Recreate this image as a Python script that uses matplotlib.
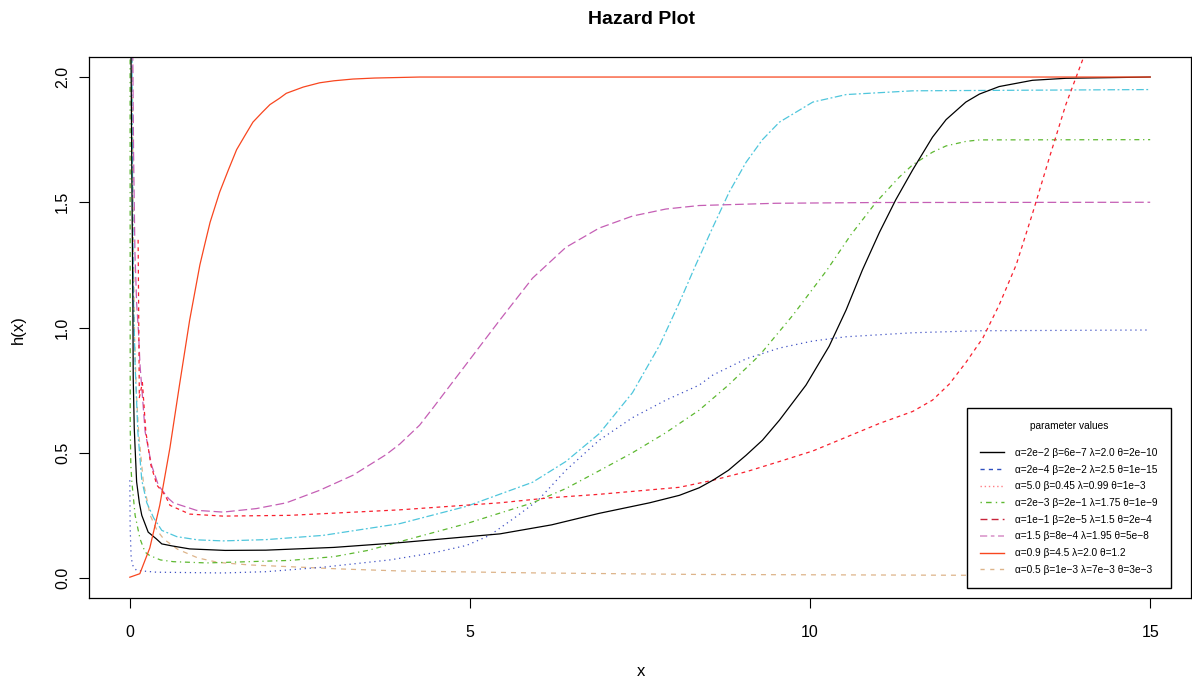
import matplotlib
matplotlib.use("Agg")
import matplotlib.pyplot as plt
from matplotlib.lines import Line2D

plt.rcParams['font.family'] = ['Liberation Sans', 'DejaVu Sans']

# curves (x, h(x))
black_x = [0.015, 0.03, 0.045, 0.05, 0.065, 0.078, 0.1, 0.14, 0.176, 0.27, 0.39, 0.47, 0.62, 0.88, 1.4, 2.0, 3.0,
           3.97, 5.44, 6.2, 6.9, 7.64, 8.08, 8.37, 8.57, 8.8, 9.06, 9.3, 9.55, 9.94, 10.28, 10.53, 10.77, 11.02,
           11.26, 11.51, 11.8, 12.0, 12.29, 12.49, 12.78, 13.27, 13.76, 15.0]
black_y = [2.2, 1.6, 1.1, 0.8, 0.6, 0.517, 0.384, 0.3, 0.25, 0.183, 0.156, 0.136, 0.128, 0.116, 0.11, 0.111, 0.122,
           0.141, 0.176, 0.212, 0.258, 0.30, 0.33, 0.36, 0.39, 0.43, 0.49, 0.55, 0.63, 0.77, 0.925, 1.07, 1.23,
           1.38, 1.51, 1.63, 1.76, 1.83, 1.9, 1.932, 1.962, 1.987, 1.995, 2.0]

red_x = [0.122, 0.14, 0.185, 0.235, 0.31, 0.40, 0.52, 0.59, 0.88, 1.37, 2.35, 3.97, 5.44, 6.17, 6.9, 8.08,
         8.57, 9.06, 9.55, 10.04, 10.53, 11.02, 11.51, 11.8, 12.05, 12.29, 12.54, 12.78, 13.03, 13.27,
         13.52, 13.76, 14.05, 14.3, 14.6, 15.0]
red_y = [1.35, 0.72, 0.78, 0.585, 0.45, 0.37, 0.33, 0.29, 0.255, 0.247, 0.25, 0.272, 0.30, 0.32, 0.334, 0.362,
         0.39, 0.424, 0.465, 0.507, 0.562, 0.617, 0.665, 0.71, 0.775, 0.86, 0.958, 1.09, 1.25, 1.455,
         1.68, 1.89, 2.1, 2.26, 2.38, 2.47]

blue_x = [0.0, 0.005, 0.02, 0.05, 0.1, 0.39, 1.37, 2.0, 2.84, 3.82, 4.46, 4.95, 5.29, 5.68, 6.0, 6.41, 6.9,
          7.39, 7.88, 8.37, 8.57, 9.06, 9.55, 10.04, 10.53, 11.51, 12.49, 15.0]
blue_y = [0.39, 0.2, 0.08, 0.045, 0.03, 0.023, 0.02, 0.025, 0.043, 0.072, 0.10, 0.13, 0.17, 0.245, 0.31,
          0.43, 0.55, 0.64, 0.71, 0.77, 0.81, 0.875, 0.918, 0.946, 0.963, 0.979, 0.987, 0.99]

green_x = [0.004, 0.006, 0.015, 0.03, 0.078, 0.15, 0.225, 0.29, 0.45, 0.64, 1.13, 2.35, 3.0, 3.5, 3.97, 4.95,
           5.92, 6.41, 6.9, 7.39, 7.88, 8.37, 8.8, 9.26, 9.75, 10.25, 10.6, 10.97, 11.31, 11.51, 11.8, 12.0,
           12.29, 12.49, 15.0]
green_y = [2.2, 0.6, 0.45, 0.384, 0.25, 0.156, 0.103, 0.09, 0.072, 0.065, 0.06, 0.07, 0.085, 0.11, 0.145, 0.217,
           0.30, 0.357, 0.428, 0.50, 0.58, 0.67, 0.77, 0.89, 1.05, 1.23, 1.37, 1.5, 1.60, 1.65, 1.70, 1.725,
           1.743, 1.749, 1.75]

magenta_x = [0.04, 0.055, 0.075, 0.10, 0.127, 0.15, 0.187, 0.225, 0.32, 0.42, 0.57, 0.64, 0.98, 1.37, 1.86,
             2.30, 2.79, 3.28, 3.77, 3.97, 4.26, 4.46, 4.95, 5.44, 5.92, 6.41, 6.9, 7.39, 7.88, 8.37, 9.5,
             11.0, 15.0]
magenta_y = [2.2, 1.7, 1.3, 1.1, 0.985, 0.85, 0.72, 0.584, 0.45, 0.37, 0.317, 0.30, 0.27, 0.263, 0.277,
             0.30, 0.35, 0.41, 0.493, 0.535, 0.61, 0.68, 0.855, 1.03, 1.197, 1.32, 1.397, 1.445, 1.473, 1.487,
             1.496, 1.499, 1.5]

cyan_x = [0.03, 0.04, 0.054, 0.078, 0.118, 0.176, 0.25, 0.35, 0.47, 0.69, 1.0, 1.37, 2.0, 2.84, 3.97, 4.95,
          5.92, 6.41, 6.9, 7.39, 7.79, 8.08, 8.32, 8.57, 8.81, 9.06, 9.3, 9.55, 10.04, 10.53, 11.51, 15.0]
cyan_y = [2.2, 1.6, 1.12, 0.85, 0.584, 0.39, 0.30, 0.24, 0.19, 0.165, 0.152, 0.148, 0.153, 0.17, 0.217, 0.286,
          0.382, 0.465, 0.576, 0.74, 0.93, 1.10, 1.25, 1.40, 1.54, 1.66, 1.75, 1.82, 1.90, 1.93, 1.945, 1.95]

orange_x = [0.0, 0.147, 0.294, 0.44, 0.59, 0.73, 0.88, 1.03, 1.1, 1.18, 1.32, 1.45, 1.57, 1.7, 1.81, 1.95,
            2.06, 2.2, 2.30, 2.55, 2.79, 3.0, 3.28, 3.6, 4.26, 15.0]
orange_y = [0.003, 0.017, 0.12, 0.29, 0.52, 0.77, 1.03, 1.25, 1.33, 1.42, 1.54, 1.63, 1.71, 1.77, 1.82, 1.86,
            1.89, 1.915, 1.935, 1.96, 1.977, 1.985, 1.992, 1.996, 2.0, 2.0]

tan_x = [0.035, 0.05, 0.07, 0.1, 0.13, 0.2, 0.3, 0.4, 0.5, 0.7, 1.0, 1.3, 1.76, 2.35, 3.09, 3.97, 6.0, 8.37,
         12.0, 15.0]
tan_y = [2.2, 1.4, 0.95, 0.72, 0.58, 0.38, 0.25, 0.19, 0.155, 0.115, 0.08, 0.062, 0.052, 0.045, 0.036, 0.028,
         0.02, 0.014, 0.011, 0.009]

legend_labels = [
    "α=2e−2 β=6e−7 λ=2.0 θ=2e−10",
    "α=2e−4 β=2e−2 λ=2.5 θ=1e−15",
    "α=5.0 β=0.45 λ=0.99 θ=1e−3",
    "α=2e−3 β=2e−1 λ=1.75 θ=1e−9",
    "α=1e−1 β=2e−5 λ=1.5 θ=2e−4",
    "α=1.5 β=8e−4 λ=1.95 θ=5e−8",
    "α=0.9 β=4.5 λ=2.0 θ=1.2",
    "α=0.5 β=1e−3 λ=7e−3 θ=3e−3",
]

fig = plt.figure(figsize=(11.92, 6.81), dpi=100)
ax = fig.add_axes([89 / 1192, 1 - 598 / 681, 1102 / 1192, 541 / 681])

lw = 0.9
ax.plot(tan_x, tan_y, color='#DDB48A', lw=lw, ls=(0, (4, 4)))
ax.plot(blue_x, blue_y, color='#3F51C4', lw=lw, ls=(0, (1, 3)))
ax.plot(green_x, green_y, color='#5DB830', lw=lw, ls=(0, (1, 3, 4, 3)))
ax.plot(cyan_x, cyan_y, color='#4FC6DC', lw=lw, ls=(0, (6, 2, 1.5, 2)))
ax.plot(magenta_x, magenta_y, color='#C55FB5', lw=lw, ls=(0, (7, 3)))
ax.plot(red_x, red_y, color='#F8202E', lw=lw, ls=(0, (3, 3)))
ax.plot(black_x, black_y, color='black', lw=lw)
ax.plot(orange_x, orange_y, color='#F8461F', lw=lw)

ax.set_xlim(-0.6, 15.6)
ax.set_ylim(-0.08, 2.08)
ax.set_xticks([0, 5, 10, 15])
ax.set_yticks([0.0, 0.5, 1.0, 1.5, 2.0])
ax.set_yticklabels(['0.0', '0.5', '1.0', '1.5', '2.0'], rotation=90, va='center')
ax.tick_params(direction='out', length=7, width=0.8, labelsize=11.5)
ax.tick_params(axis='x', pad=12.5)
ax.tick_params(axis='y', pad=6.5)
for s in ax.spines.values():
    s.set_linewidth(0.9)

fig.text(641 / 1192, 1 - 19 / 681, 'Hazard Plot', ha='center', va='center', fontsize=14, fontweight='bold')
fig.text(641 / 1192, 1 - 671 / 681, 'x', ha='center', va='center', fontsize=12)
fig.text(18 / 1192, 1 - 330 / 681, 'h(x)', ha='center', va='center', fontsize=12, rotation=90)

handles = [
    Line2D([], [], color='black', lw=1),
    Line2D([], [], color='#2F4FBF', lw=1, ls=(0, (3, 3))),
    Line2D([], [], color='#FF7F86', lw=1, ls=(0, (1, 2))),
    Line2D([], [], color='#5DB830', lw=1, ls=(0, (1, 3, 4, 3))),
    Line2D([], [], color='#C8243A', lw=1, ls=(0, (5, 3))),
    Line2D([], [], color='#DDA0D0', lw=1.3, ls=(0, (4, 2, 2, 2))),
    Line2D([], [], color='#F8461F', lw=1),
    Line2D([], [], color='#DDB48A', lw=1, ls=(0, (3, 4))),
]
leg = ax.legend(handles, legend_labels, title='parameter values', loc='lower right',
                bbox_to_anchor=(0.982, 0.0185), borderaxespad=0, fontsize=7.3, title_fontsize=7.3,
                frameon=True, fancybox=False, handlelength=2.4, handletextpad=1.1,
                labelspacing=0.66, borderpad=1.3)
leg._legend_box.sep = 12
leg.get_frame().set_edgecolor('black')
leg.get_frame().set_linewidth(1)
leg.get_frame().set_alpha(1)

fig.savefig('out.png', dpi=100)
